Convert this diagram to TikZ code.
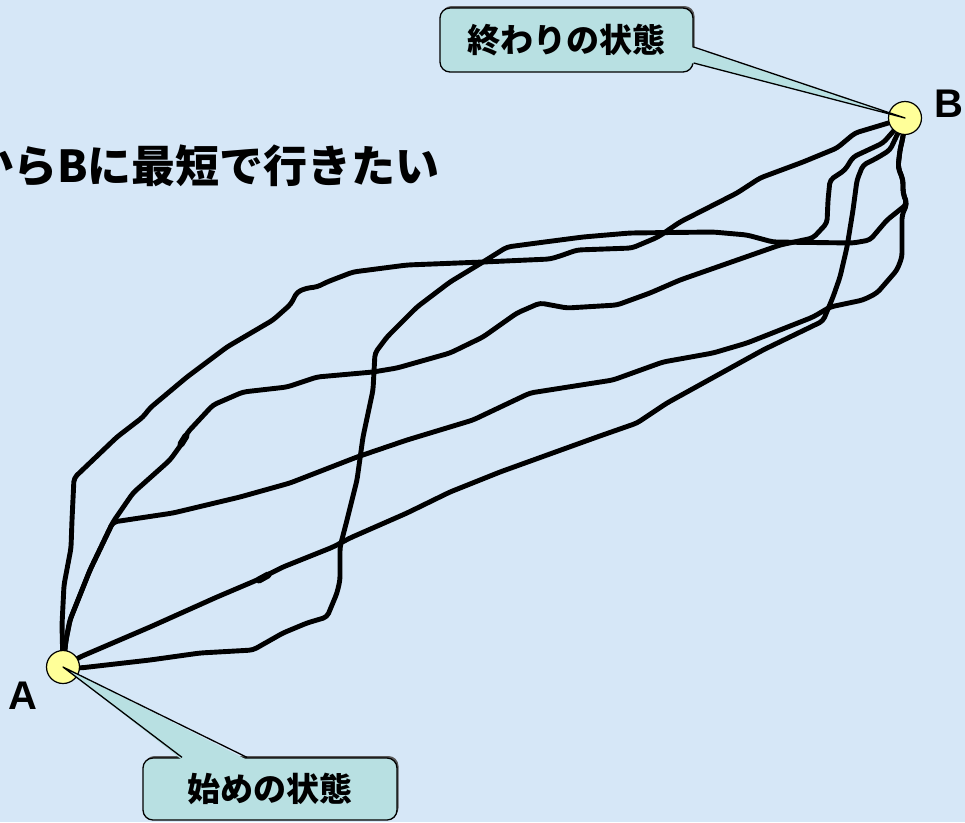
\documentclass[tikz,border=0pt]{standalone}
\usepackage{fontspec}
\newfontfamily\jpfont{Noto Sans CJK JP}
\newfontfamily\latinbold{Liberation Sans}
\usetikzlibrary{calc,shadows}
\definecolor{bgblue}{RGB}{214,231,247}
\definecolor{callfill}{RGB}{184,224,226}
\definecolor{ptyellow}{RGB}{255,255,153}
\tikzset{
  curve/.style={line width=4.9pt, rounded corners=4pt, line join=round, line cap=round},
  endpt/.style={circle, draw=black, line width=1.2pt, fill=ptyellow, minimum size=33pt, inner sep=0pt},
  callbox/.style={draw=black, line width=1.3pt, fill=callfill, rounded corners=10pt, inner sep=0pt,
    general shadow={fill=black!65, shadow xshift=1.5pt, shadow yshift=2pt},
    font=\jpfont\bfseries\fontsize{33}{36}\selectfont},
  wedgeline/.style={line width=1.3pt, line join=round},
  ptlabel/.style={font=\latinbold\bfseries\fontsize{40}{44}\selectfont, inner sep=0pt},
  blob/.style={line width=7pt, line cap=round},
}
\begin{document}
\begin{tikzpicture}[x=1pt,y=-1pt]
\fill[bgblue] (0,0) rectangle (965,822);
\useasboundingbox (0,0) rectangle (965,822);

% title
\node[anchor=base west, inner sep=0pt, font=\jpfont\bfseries\fontsize{44}{48}\selectfont] (title) at (-31,182.5) {からBに最短で行きたい};

% end points (coordinates first, circles drawn later)
\coordinate (Apos) at (63,667);
\coordinate (Bpos) at (905,118);

% paths from A to B
\draw[curve] (Apos) -- (62,625) -- (64,585) -- (71,548) -- (72,520) -- (74,478) -- (117,437) -- (143,417) -- (150,408) -- (187,377) -- (227,347) -- (273,320) -- (291,304) -- (297,292) -- (307,288) -- (317,287) -- (327,282) -- (353,272) -- (407,265) -- (483,262) -- (550,259) -- (560,256) -- (577,250) -- (632,248) -- (658,237) -- (680,222) -- (737,193) -- (760,178) -- (803,162) -- (837,148) -- (855,133) -- (Bpos);

\draw[curve] (Apos) -- (80,668) -- (150,660) -- (200,653) -- (253,650) -- (283,633) -- (307,623) -- (327,617) -- (337,593) -- (340,580) -- (340,547) -- (347,520) -- (357,480) -- (363,437) -- (373,390) -- (375,353) -- (387,337) -- (407,317) -- (417,307) -- (450,282) -- (483,262) -- (507,247) -- (537,243) -- (583,237) -- (630,233) -- (713,232) -- (747,235) -- (773,242) -- (853,243) -- (870,240) -- (887,220) -- (907,204) -- (903,193) -- (903,180) -- (898,167) -- (900,150) -- (903,137) -- (Bpos);

\draw[curve] (Apos) -- (66,640) -- (70,620) -- (90,570) -- (113,522) -- (133,493) -- (170,460) -- (183,442) -- (187,433) -- (213,405) -- (243,392) -- (287,387) -- (317,377) -- (373,372) -- (397,368) -- (450,353) -- (483,337) -- (517,313) -- (540,303) -- (567,308) -- (617,305) -- (650,293) -- (680,280) -- (780,245) -- (813,238) -- (827,223) -- (828,200) -- (830,180) -- (845,170) -- (853,157) -- (883,143) -- (Bpos);

\draw[curve] (Apos) -- (66,640) -- (70,620) -- (90,570) -- (113,522) -- (173,513) -- (240,497) -- (290,483) -- (357,457) -- (407,440) -- (473,420) -- (530,393) -- (613,380) -- (663,362) -- (713,353) -- (747,343) -- (813,317) -- (830,307) -- (863,300) -- (877,293) -- (897,270) -- (902,257) -- (902,215) -- (907,204) -- (903,193) -- (903,180) -- (898,167) -- (900,150) -- (903,137) -- (Bpos);

\draw[curve] (Apos) -- (80,657) -- (150,627) -- (217,597) -- (257,580) -- (283,567) -- (333,547) -- (350,538) -- (407,513) -- (450,492) -- (500,472) -- (597,437) -- (637,423) -- (667,403) -- (763,350) -- (823,321) -- (833,297) -- (840,277) -- (847,247) -- (853,210) -- (857,180) -- (863,165) -- (877,158) -- (890,150) -- (Bpos);

% pen blobs
\draw[blob] (181,444) -- (186,436);
\draw[blob] (259,580) -- (268,575);

% end point circles
\node[endpt] (A) at (Apos) {};
\node[endpt] (B) at (Bpos) {};

% labels
\node[ptlabel] (Alab) at (23,696) {A};
\node[ptlabel] (Blab) at (949,104) {B};

% callout: end state
\node[callbox, minimum width=253pt, minimum height=64pt] (endbox) at (566.5,40) {終わりの状態};
\fill[callfill] ([xshift=-2.5pt,yshift=-7pt]endbox.east) -- (B.center) -- ([xshift=-2.5pt,yshift=-23pt]endbox.east) -- cycle;
\draw[wedgeline] ([yshift=-7pt]endbox.east) -- (B.center) -- ([yshift=-23pt]endbox.east);

% callout: start state
\node[callbox, minimum width=254pt, minimum height=62pt] (startbox) at (270,789) {始めの状態};
\fill[callfill] ([xshift=-88pt,yshift=-2.5pt]startbox.north) -- (A.center) -- ([xshift=-23pt,yshift=-2.5pt]startbox.north) -- cycle;
\draw[wedgeline] ([xshift=-88pt]startbox.north) -- (A.center) -- ([xshift=-23pt]startbox.north);
\end{tikzpicture}
\end{document}
